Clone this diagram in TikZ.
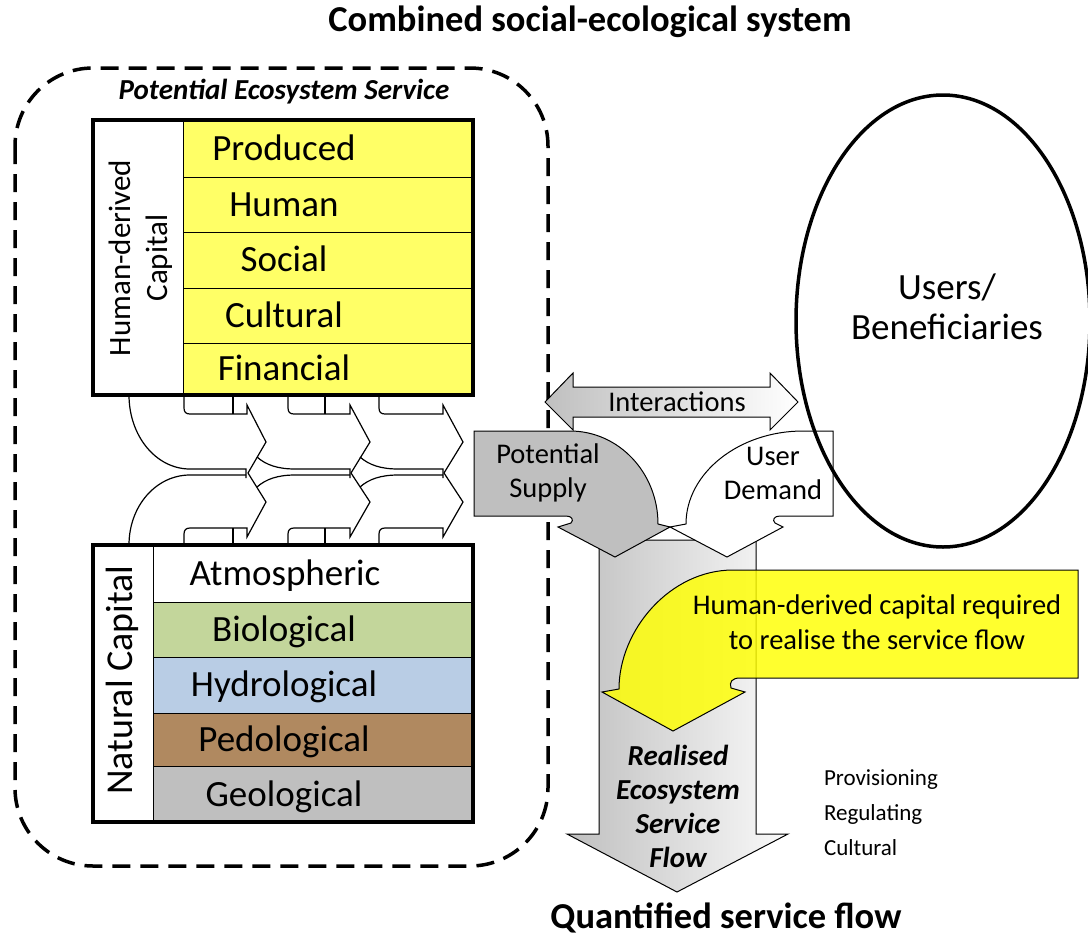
\documentclass[tikz,border=0pt]{standalone}
\usepackage{fontspec}
\setmainfont{Carlito}
\usetikzlibrary{shapes.geometric}
\definecolor{hyel}{RGB}{255,255,102}
\definecolor{ayel}{RGB}{255,255,0}
\definecolor{bio}{RGB}{195,214,155}
\definecolor{hyd}{RGB}{185,205,229}
\definecolor{ped}{RGB}{176,137,96}
\definecolor{geo}{RGB}{191,191,191}
\definecolor{psgray}{RGB}{191,191,191}
\newcommand{\fsz}[2]{\fontsize{#1}{#2}\selectfont}
\begin{document}
\begin{tikzpicture}[x=1pt,y=-1pt,
  conn/.style={line width=1.2pt, line join=miter},
  rowline/.style={line width=1pt},
  thick box/.style={line width=4pt},
  lbl/.style={inner sep=0pt, outer sep=0pt},
  boxtxt/.style={lbl, anchor=base, font=\fsz{37}{44}},
  shape line/.style={line width=1pt, line join=miter}]
\useasboundingbox (0,0) rectangle (1088,935);

% title
\node[lbl, font=\fsz{36.5}{42}\bfseries] (title) at (590,22) {Combined social-ecological system};

% dashed container
\draw[line width=3.5pt, dash pattern=on 18pt off 10pt, rounded corners=78pt] (15,68) rectangle (548,866);
\node[lbl, font=\fsz{29}{34}\bfseries\itshape] (potes) at (284,92) {Potential Ecosystem Service};

% connectors between capital boxes
% column 1
\draw[conn] (129,395) .. controls (129,436) and (156,469) .. (190,469) -- (246,469) -- (246,478);
\draw[conn] (129,545) .. controls (129,506) and (156,475) .. (190,475) -- (246,475);
\draw[conn] (184,395) -- (184,408) .. controls (184,412) and (186,414) .. (190,414) -- (247,414) -- (247,405) -- (266,442) -- (248,473) -- (266,502) -- (247,537) -- (247,528) -- (190,528) .. controls (186,528) and (184,530) .. (184,534) -- (184,545);
\draw[conn] (233,395) -- (233,414);
\draw[conn] (233,528) -- (233,545);
% column 2
\draw[conn] (257,457) .. controls (266,465) and (278,469) .. (295,469) -- (350,469) -- (350,478);
\draw[conn] (257,487) .. controls (266,479) and (278,475) .. (295,475) -- (350,475);
\draw[conn] (288,395) -- (288,408) .. controls (288,412) and (290,414) .. (294,414) -- (350,414) -- (350,405) -- (370,442) -- (351,473) -- (370,502) -- (350,537) -- (350,528) -- (294,528) .. controls (290,528) and (288,530) .. (288,534) -- (288,545);
\draw[conn] (325,395) -- (325,414);
\draw[conn] (325,528) -- (325,545);
% column 3
\draw[conn] (360,457) .. controls (369,465) and (381,469) .. (398,469) -- (443,469) -- (443,478);
\draw[conn] (360,487) .. controls (369,479) and (381,475) .. (398,475) -- (443,475);
\draw[conn] (379,395) -- (379,408) .. controls (379,412) and (381,414) .. (385,414) -- (443,414) -- (443,405) -- (463,442) -- (444,473) -- (463,502) -- (443,537) -- (443,528) -- (385,528) .. controls (381,528) and (379,530) .. (379,534) -- (379,545);

% Human-derived capital box
\fill[white] (93,120) rectangle (183,395);
\fill[hyel] (183,120) rectangle (473,395);
\draw[rowline] (183,120) -- (183,395);
\foreach \y in {177,232,288,343} \draw[rowline] (183,\y) -- (473,\y);
\draw[thick box] (93,120) rectangle (473,395);
\node[lbl, rotate=90, align=center, font=\fsz{31}{37}] (hdc) at (141,258) {Human-derived\\Capital};
\node[boxtxt] (produced) at (284,160) {Produced};
\node[boxtxt] (human) at (284,216) {Human};
\node[boxtxt] (social) at (284,271) {Social};
\node[boxtxt] (cultural) at (284,327) {Cultural};
\node[boxtxt] (financial) at (284,380) {Financial};

% Natural capital box
\fill[white] (93,545) rectangle (473,602);
\fill[bio] (153,602) rectangle (473,657);
\fill[hyd] (153,657) rectangle (473,713);
\fill[ped] (153,713) rectangle (473,766);
\fill[geo] (153,766) rectangle (473,822);
\fill[white] (93,602) rectangle (153,822);
\draw[rowline] (153,545) -- (153,822);
\foreach \y in {602,657,713,766} \draw[rowline] (153,\y) -- (473,\y);
\draw[thick box] (93,545) rectangle (473,822);
\node[lbl, rotate=90, font=\fsz{38}{44}] (natcap) at (122,680) {Natural Capital};
\node[boxtxt] (atmo) at (285,585) {Atmospheric};
\node[boxtxt] (biol) at (284,641) {Biological};
\node[boxtxt] (hydro) at (284,696) {Hydrological};
\node[boxtxt] (pedo) at (284,751) {Pedological};
\node[boxtxt] (geol) at (284,806) {Geological};

% realised flow arrow
\path[draw, shape line, left color=black!25, right color=black!2]
  (599,540) -- (599,834) -- (567,834) -- (677,892) -- (788,834) -- (756,834) -- (756,540) -- cycle;

% interactions double arrow
\path[draw, shape line, left color=black!25, right color=white]
  (545,402) -- (573,373) -- (573,387) -- (770,387) -- (770,373) -- (798,402) -- (770,430) -- (770,417) -- (573,417) -- (573,430) -- cycle;
\node[lbl, font=\fsz{28.5}{34}] (inter) at (677,402) {Interactions};

% potential supply bent arrow
\draw[shape line, fill=psgray]
  (474,431) -- (570,431) .. controls (619,431) and (658,473) .. (658,524) -- (670,527) -- (615,557) -- (558,527) -- (571,523) .. controls (574,520) and (572,516) .. (566,516) -- (474,516) -- cycle;
\node[lbl, align=center, font=\fsz{28.5}{34}] (psup) at (548,473) {Potential\\Supply};

% user demand bent arrow
\draw[shape line, fill=white]
  (833,431) -- (803,431) .. controls (739,431) and (686,473) .. (686,524) -- (670,527) -- (727,557) -- (783,527) -- (775,523) .. controls (772,520) and (774,516) .. (780,516) -- (833,516) -- cycle;
\node[lbl, align=center, font=\fsz{28.5}{34}] (udem) at (773,473) {User\\Demand};

% users ellipse
\draw[line width=3.5pt] (943,321) ellipse [x radius=147, y radius=226];
\node[lbl, align=center, font=\fsz{37}{40}] (users) at (947,307) {Users/\\Beneficiaries};

% yellow bent arrow
\draw[shape line, fill=ayel, fill opacity=0.82]
  (1078,570) -- (733,570) .. controls (670,570) and (619,630) .. (619,689) -- (602,692) -- (673,731) -- (745,692) -- (731,688) .. controls (729,682) and (732,678) .. (740,678) -- (1078,678) -- cycle;
\node[lbl, align=center, font=\fsz{28.5}{35}] (hreq) at (877,622) {Human-derived capital required\\to realise the service flow};

% realised flow label
\node[lbl, align=center, font=\fsz{29}{34}\bfseries\itshape] (real) at (678,806) {Realised\\Ecosystem\\Service\\Flow};

% service types
\node[lbl, align=left, anchor=west, font=\fsz{23}{35}] (types) at (824,813) {Provisioning\\Regulating\\Cultural};

% bottom caption
\node[lbl, anchor=base, font=\fsz{36.5}{42}\bfseries] (quant) at (726,928) {Quantified service flow};
\end{tikzpicture}
\end{document}
